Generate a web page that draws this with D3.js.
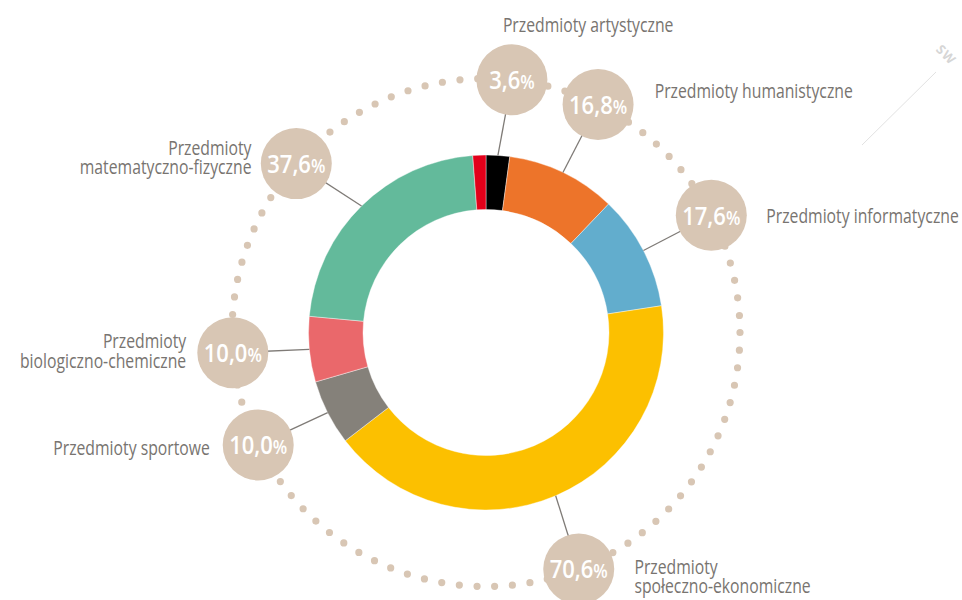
<!DOCTYPE html>
<html><head><meta charset="utf-8">
<script src="https://cdn.jsdelivr.net/npm/d3@7"></script>
<style>body{margin:0;background:#fff} svg{display:block}</style>
</head><body><svg id="c" width="962" height="600"></svg>
<script>
// ---- data ----
const categories = ["Przedmioty artystyczne","Przedmioty humanistyczne","Przedmioty informatyczne","Przedmioty społeczno-ekonomiczne","Przedmioty sportowe","Przedmioty biologiczno-chemiczne","Przedmioty matematyczno-fizyczne","Inne"];
const labelLines = [["Przedmioty artystyczne"],["Przedmioty humanistyczne"],["Przedmioty informatyczne"],["Przedmioty","społeczno-ekonomiczne"],["Przedmioty sportowe"],["Przedmioty","biologiczno-chemiczne"],["Przedmioty","matematyczno-fizyczne"],null];
const values = [3.6, 16.8, 17.6, 70.6, 10.0, 10.0, 37.6, 2.0];
const colors = ["#000000","#ED742A","#62ADCD","#FCC000","#85817A","#EA686B","#63BA9B","#E2001A"];

// ---- layout ----
const W=962, H=600, cx=486, cy=332.5, rIn=123, rOut=177.5, rRing=254, rBubble=35.5;
const bubbleNudge=[2,0.5,0,1.7,0.6,0.9,-3.8,0]; // degrees
const labelLayout=[
  {anchor:"start", dx:-9, dy:-48},
  {anchor:"start", dx:56.6, dy:-6.7},
  {anchor:"start", dx:55, dy:7.7},
  {anchor:"start", dx:55.7, dy:5},
  {anchor:"end", dx:-48.4, dy:10},
  {anchor:"end", dx:-46.6, dy:-4.4},
  {anchor:"end", dx:-44.8, dy:-9}
];
const bubbleColor="#D8C6B4", textColor="#787470", lineColor="#7F7B77";
const font="'Open Sans', 'Noto Sans', sans-serif";

const data = categories.map((c,i)=>({name:c, value:values[i], color:colors[i], lines:labelLines[i]}));
const svg=d3.select("#c");

// watermark
svg.append("line").attr("x1",936).attr("y1",72).attr("x2",862).attr("y2",145)
  .attr("stroke","#e2e2e2").attr("stroke-width",1);
svg.append("text").attr("transform","translate(943,58) rotate(45)")
  .attr("text-anchor","middle").attr("font-family",font).attr("font-weight",700)
  .attr("font-size",13).attr("fill","#d6d6d6").attr("letter-spacing",1).text("SW");

const g=svg.append("g").attr("transform",`translate(${cx},${cy})`);

// dotted ring
const circ=2*Math.PI*rRing;
g.append("circle").attr("r",rRing).attr("fill","none").attr("stroke",bubbleColor)
  .attr("stroke-width",7.2).attr("stroke-linecap","round")
  .attr("stroke-dasharray",`0 ${circ/90}`);

const pie=d3.pie().sort(null).value(d=>d.value);
const arcs=pie(data);
const arc=d3.arc().innerRadius(rIn).outerRadius(rOut);

g.selectAll("path.seg").data(arcs).join("path").attr("class","seg")
  .attr("d",arc).attr("fill",d=>d.data.color)
  .attr("stroke","#fff").attr("stroke-width",0.4);

const toXY=(a,r)=>[Math.sin(a)*r, -Math.cos(a)*r];
const labelled=arcs.map((d,i)=>({...d, i})).filter(d=>d.data.lines);
labelled.forEach(d=>{
  const mid=(d.startAngle+d.endAngle)/2;
  d.mid=mid;
  d.ba=mid+bubbleNudge[d.i]*Math.PI/180;
  d.b=toXY(d.ba,rRing);
});

// leader lines
g.selectAll("line.lead").data(labelled).join("line").attr("class","lead")
  .attr("x1",d=>toXY(d.mid,rOut)[0]).attr("y1",d=>toXY(d.mid,rOut)[1])
  .attr("x2",d=>d.b[0]).attr("y2",d=>d.b[1])
  .attr("stroke",lineColor).attr("stroke-width",1.3);

// bubbles
g.selectAll("circle.bub").data(labelled).join("circle").attr("class","bub")
  .attr("cx",d=>d.b[0]).attr("cy",d=>d.b[1]).attr("r",rBubble).attr("fill",bubbleColor);

const fmt=v=>d3.format(".1f")(v).replace(".",",");
const num=g.selectAll("g.num").data(labelled).join("g").attr("class","num")
  .attr("transform",d=>`translate(${d.b[0]},${d.b[1]}) scale(0.88,1)`);
const nt=num.append("text").attr("text-anchor","middle").attr("y",9.5)
  .attr("font-family",font).attr("font-weight",600).attr("fill","#fff");
nt.append("tspan").attr("font-size",25).text(d=>fmt(d.data.value));
nt.append("tspan").attr("font-size",19).text("%");

// category labels
const lab=g.selectAll("g.lab").data(labelled).join("g").attr("class","lab");
const lt=lab.append("text").attr("font-family",font).attr("font-size",20)
  .attr("fill",textColor).attr("text-anchor",d=>labelLayout[d.i].anchor);
lt.selectAll("tspan").data(d=>d.data.lines).join("tspan")
  .attr("x",0).attr("dy",(l,j)=>j===0?0:19.5).text(l=>l);

// condense horizontally to match reference width
let ref=lt.filter(d=>d.i===2).node().getComputedTextLength();
const sx=192.5/ref;
lab.attr("transform",d=>{
  const L=labelLayout[d.i];
  return `translate(${d.b[0]+L.dx},${d.b[1]+L.dy}) scale(${sx},1)`;
});
</script></body></html>
